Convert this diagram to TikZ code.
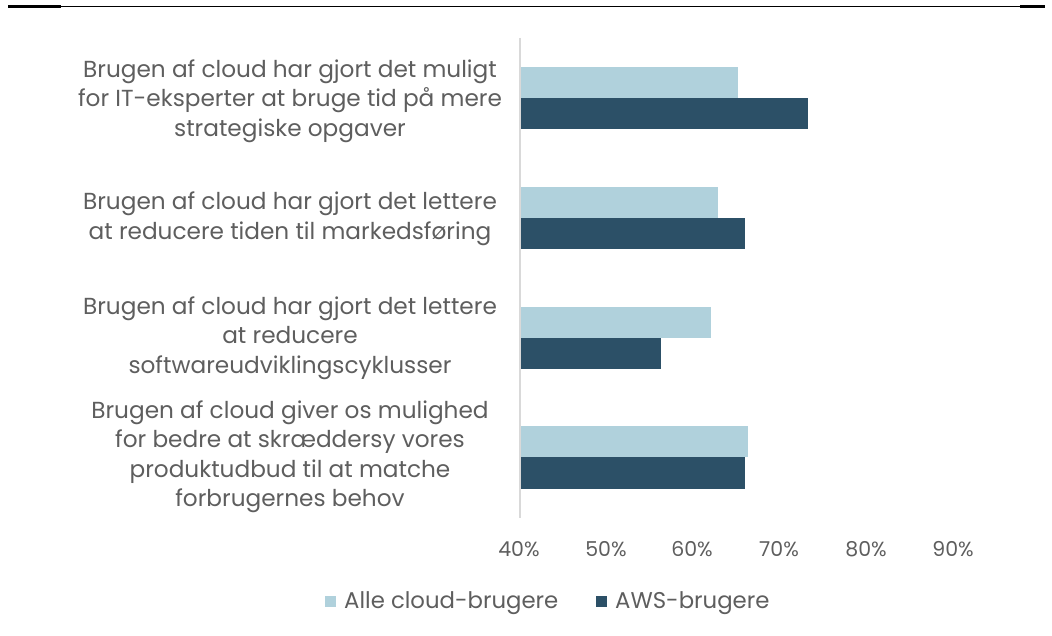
\documentclass[tikz,border=0pt]{standalone}
\usepackage{fontspec}
\setmainfont{Poppins}
\definecolor{lightbar}{HTML}{B0D1DC}
\definecolor{darkbar}{HTML}{2C5067}
\definecolor{txtgray}{HTML}{5E5E5E}
\definecolor{axisgray}{HTML}{D9D9D9}
\tikzset{
  lbl/.style={font=\fontsize{23.2}{29.5}\selectfont, text=txtgray, align=center},
  tick/.style={font=\fontsize{20.5}{24}\selectfont, text=txtgray},
  legtxt/.style={font=\fontsize{22.8}{26}\selectfont, text=txtgray, anchor=west, inner sep=0pt}
}
\begin{document}
\begin{tikzpicture}[x=1pt, y=-1pt]
    \useasboundingbox (0,0) rectangle (1052,636);
    % top rule
    \draw[line width=1pt] (8,7) -- (1045,7);
    \draw[line width=3pt] (8,7) -- (61,7);
    \draw[line width=3pt] (1020,7) -- (1045,7);

    % category labels
    \node[lbl] (c1) at (290, 101) {Brugen af cloud har gjort det muligt\\for IT-eksperter at bruge tid på mere\\strategiske opgaver};
    \node[lbl] (c2) at (290, 219) {Brugen af cloud har gjort det lettere\\at reducere tiden til markedsføring};
    \node[lbl] (c3) at (290, 338) {Brugen af cloud har gjort det lettere\\at reducere\\softwareudviklingscyklusser};
    \node[lbl] (c4) at (290, 457) {Brugen af cloud giver os mulighed\\for bedre at skræddersy vores\\produktudbud til at matche\\forbrugernes behov};

    % bars
    \fill[lightbar] (521,67) rectangle (738,98);
    \fill[darkbar] (521,98) rectangle (808,129);
    \fill[lightbar] (521,187) rectangle (718,218);
    \fill[darkbar] (521,218) rectangle (745,249);
    \fill[lightbar] (521,307) rectangle (711,338);
    \fill[darkbar] (521,338) rectangle (661,369);
    \fill[lightbar] (521,426) rectangle (748,457);
    \fill[darkbar] (521,457) rectangle (745,489);

    % axis
    \draw[axisgray, line width=2pt] (520,38) -- (520,518);

    % ticks
    \node[tick] (t40) at (519, 549) {40\%};
    \node[tick] (t50) at (606, 549) {50\%};
    \node[tick] (t60) at (692, 549) {60\%};
    \node[tick] (t70) at (779, 549) {70\%};
    \node[tick] (t80) at (866, 549) {80\%};
    \node[tick] (t90) at (953, 549) {90\%};

    % legend
    \fill[lightbar] (325,596) rectangle (336,607);
    \node[legtxt] (l1) at (344, 603) {Alle cloud-brugere};
    \fill[darkbar] (596,596) rectangle (607,607);
    \node[legtxt] (l2) at (615, 603) {AWS-brugere};
\end{tikzpicture}
\end{document}
